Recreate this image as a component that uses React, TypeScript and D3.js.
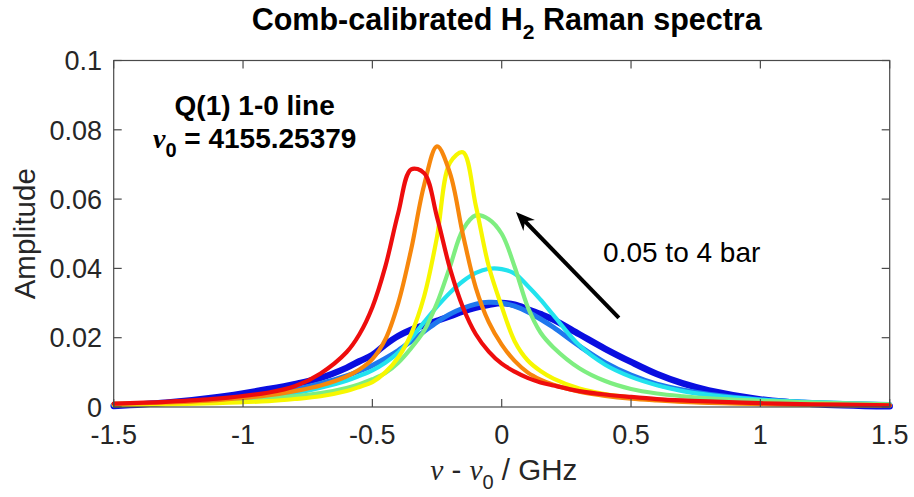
import React from 'react';
import * as d3 from 'd3';

// shared frequency grid (GHz, relative to nu0)
const xValues = [-1.5, -1.3, -1.1, -0.9, -0.8, -0.7, -0.6, -0.55, -0.5, -0.45, -0.4, -0.35, -0.3, -0.25, -0.2, -0.15, -0.1, -0.05, 0, 0.05, 0.1, 0.15, 0.2, 0.3, 0.4, 0.5, 0.6, 0.7, 0.8, 1.0, 1.2, 1.5];

// spectra, lowest pressure (0.05 bar) to highest (4 bar)
const darkBlue = [0.0003, 0.0012, 0.0028, 0.0052, 0.0066, 0.0084, 0.0113, 0.0132, 0.0150, 0.0180, 0.0205, 0.0223, 0.0236, 0.0249, 0.0262, 0.0276, 0.0287, 0.0295, 0.0300, 0.0295, 0.0282, 0.0268, 0.0252, 0.0210, 0.0168, 0.0130, 0.0095, 0.0068, 0.0048, 0.0022, 0.0009, 0.0002];
const lightBlue = [0.0006, 0.0011, 0.0019, 0.0035, 0.0050, 0.0068, 0.0090, 0.0104, 0.0120, 0.0140, 0.0163, 0.0190, 0.0218, 0.0245, 0.0268, 0.0285, 0.0297, 0.0302, 0.0300, 0.0291, 0.0275, 0.0254, 0.0230, 0.0176, 0.0128, 0.0092, 0.0066, 0.0049, 0.0037, 0.0021, 0.0013, 0.0007];
const cyan = [0.0007, 0.0011, 0.0018, 0.0030, 0.0040, 0.0056, 0.0076, 0.0090, 0.0106, 0.0128, 0.0157, 0.0198, 0.0245, 0.0290, 0.0330, 0.0363, 0.0387, 0.0399, 0.0398, 0.0385, 0.0350, 0.0310, 0.0265, 0.0178, 0.0122, 0.0087, 0.0063, 0.0046, 0.0035, 0.0021, 0.0014, 0.0008];
const green = [0.0009, 0.0012, 0.0017, 0.0024, 0.0031, 0.0040, 0.0055, 0.0066, 0.0080, 0.0098, 0.0128, 0.0170, 0.0220, 0.0300, 0.0405, 0.0512, 0.0553, 0.0542, 0.0500, 0.0405, 0.0290, 0.0215, 0.0172, 0.0112, 0.0075, 0.0052, 0.0039, 0.0031, 0.0025, 0.0018, 0.0013, 0.0008];
const yellow = [0.00055, 0.00076, 0.0011, 0.0017, 0.0023, 0.0031, 0.0046, 0.0058, 0.0072, 0.0100, 0.0143, 0.0211, 0.0319, 0.0491, 0.0705, 0.0735, 0.0581, 0.0406, 0.0290, 0.0190, 0.0135, 0.0104, 0.0082, 0.0053, 0.0037, 0.0027, 0.0021, 0.0016, 0.0013, 0.0009, 0.00066, 0.00045];
const orange = [0.0009, 0.0013, 0.0020, 0.0034, 0.0046, 0.0062, 0.0088, 0.0108, 0.0138, 0.0195, 0.0300, 0.0455, 0.0640, 0.0752, 0.0675, 0.0498, 0.0344, 0.0245, 0.0180, 0.0133, 0.0100, 0.0079, 0.0064, 0.0044, 0.0032, 0.0024, 0.0019, 0.0015, 0.0012, 0.00085, 0.00063, 0.00043];
const red = [0.0010, 0.0015, 0.0024, 0.0042, 0.0060, 0.0097, 0.0158, 0.0210, 0.0288, 0.0405, 0.0560, 0.0686, 0.0675, 0.0548, 0.0400, 0.0288, 0.0210, 0.0160, 0.0125, 0.0102, 0.0084, 0.0071, 0.0062, 0.0046, 0.0036, 0.0029, 0.0023, 0.0019, 0.0016, 0.0011, 0.0008, 0.0005];

const seriesData = [darkBlue, lightBlue, cyan, green, yellow, orange, red];
const seriesColors = ['#0a0ee0', '#1f78ee', '#22e3ee', '#7eee80', '#f7f700', '#f7870c', '#ee0d0d'];
const seriesWidths = [6.5, 5, 4.2, 4.2, 4.2, 4.2, 4.2];

const xTicks = [-1.5, -1, -0.5, 0, 0.5, 1, 1.5];
const xTickLabels = ['-1.5', '-1', '-0.5', '0', '0.5', '1', '1.5'];
const yTicks = [0, 0.02, 0.04, 0.06, 0.08, 0.1];
const yTickLabels = ['0', '0.02', '0.04', '0.06', '0.08', '0.1'];

// annotation anchors in data coordinates
const arrowTail = [0.453, 0.0257];
const arrowTip = [0.055, 0.0563];

export default function App() {
  const W = 914, H = 497;
  const x = d3.scaleLinear().domain([-1.5, 1.5]).range([113.7, 889.7]);
  const y = d3.scaleLinear().domain([0, 0.1]).range([407, 60.5]);
  const [x0, x1] = x.range();
  const [yb, yt] = y.range();

  const line = d3.line<number>()
    .x((_, i) => x(xValues[i]))
    .y(d => y(d))
    .curve(d3.curveCatmullRom.alpha(0.5));

  const sans = '"Liberation Sans", Arial, Helvetica, sans-serif';
  const serif = '"Liberation Serif", "DejaVu Serif", serif';
  const axisColor = '#4a4a4a';
  const textColor = '#262626';
  const tickLen = 8;

  // arrow geometry
  const tx = x(arrowTail[0]), ty = y(arrowTail[1]);
  const hx = x(arrowTip[0]), hy = y(arrowTip[1]);
  const len = Math.hypot(hx - tx, hy - ty);
  const ux = (hx - tx) / len, uy = (hy - ty) / len;
  const px = -uy, py = ux;
  const headL = 19, headW = 8, notch = 13;
  const head = [
    [hx, hy],
    [hx - ux * headL + px * headW, hy - uy * headL + py * headW],
    [hx - ux * notch, hy - uy * notch],
    [hx - ux * headL - px * headW, hy - uy * headL - py * headW],
  ];

  return (
    <svg width={W} height={H} style={{ position: 'absolute', left: 0, top: 0, background: '#fff' }}>
      <rect x={0} y={0} width={W} height={H} fill="#fff" />
      {/* title */}
      <text x={(x0 + x1) / 2 + 5} y={30} textAnchor="middle" fontFamily={sans} fontWeight="bold" fontSize={30.5} fill="#000">
        Comb-calibrated H<tspan dy={9} fontSize={21}>2</tspan><tspan dy={-9}> Raman spectra</tspan>
      </text>

      {/* series */}
      {seriesData.map((s, i) => (
        <path key={i} d={line(s) || ''} fill="none" stroke={seriesColors[i]} strokeWidth={seriesWidths[i]} strokeLinejoin="round" strokeLinecap="round" />
      ))}

      {/* axes box */}
      <rect x={x0} y={yt} width={x1 - x0} height={yb - yt} fill="none" stroke={axisColor} strokeWidth={1.2} />
      {xTicks.map((t, i) => (
        <g key={'xt' + i}>
          <line x1={x(t)} x2={x(t)} y1={yb} y2={yb - tickLen} stroke={axisColor} strokeWidth={1.2} />
          <line x1={x(t)} x2={x(t)} y1={yt} y2={yt + tickLen} stroke={axisColor} strokeWidth={1.2} />
          <text x={x(t)} y={443.5} textAnchor="middle" fontFamily={sans} fontSize={27} fill={textColor}>{xTickLabels[i]}</text>
        </g>
      ))}
      {yTicks.map((t, i) => (
        <g key={'yt' + i}>
          <line x1={x0} x2={x0 + tickLen} y1={y(t)} y2={y(t)} stroke={axisColor} strokeWidth={1.2} />
          <line x1={x1} x2={x1 - tickLen} y1={y(t)} y2={y(t)} stroke={axisColor} strokeWidth={1.2} />
          <text x={102} y={y(t) + 9.7} textAnchor="end" fontFamily={sans} fontSize={27} fill={textColor}>{yTickLabels[i]}</text>
        </g>
      ))}

      {/* axis labels */}
      <text x={(x0 + x1) / 2 + 2} y={480} textAnchor="middle" fontFamily={sans} fontSize={29.5} fill={textColor}>
        <tspan fontFamily={serif} fontStyle="italic">ν</tspan> - <tspan fontFamily={serif} fontStyle="italic">ν</tspan><tspan dy={9} fontSize={20}>0</tspan><tspan dy={-9}> / GHz</tspan>
      </text>
      <text transform={`translate(35,${(yb + yt) / 2}) rotate(-90)`} textAnchor="middle" fontFamily={sans} fontSize={29.5} fill={textColor}>Amplitude</text>

      {/* annotations */}
      <text x={x(-0.955)} y={y(0.0843)} textAnchor="middle" fontFamily={sans} fontWeight="bold" fontSize={28} fill="#000">Q(1) 1-0 line</text>
      <text x={x(-0.955)} y={y(0.0747)} textAnchor="middle" fontFamily={sans} fontWeight="bold" fontSize={28} fill="#000">
        <tspan fontFamily={serif} fontStyle="italic">ν</tspan><tspan dy={9} fontSize={20}>0</tspan><tspan dy={-9}> = 4155.25379</tspan>
      </text>
      <text x={x(0.392)} y={y(0.0418)} fontFamily={sans} fontSize={28} fill="#000">0.05 to 4 bar</text>

      {/* arrow */}
      <line x1={tx} y1={ty} x2={hx - ux * notch} y2={hy - uy * notch} stroke="#000" strokeWidth={4} />
      <polygon points={head.map(p => p.join(',')).join(' ')} fill="#000" />
    </svg>
  );
}
